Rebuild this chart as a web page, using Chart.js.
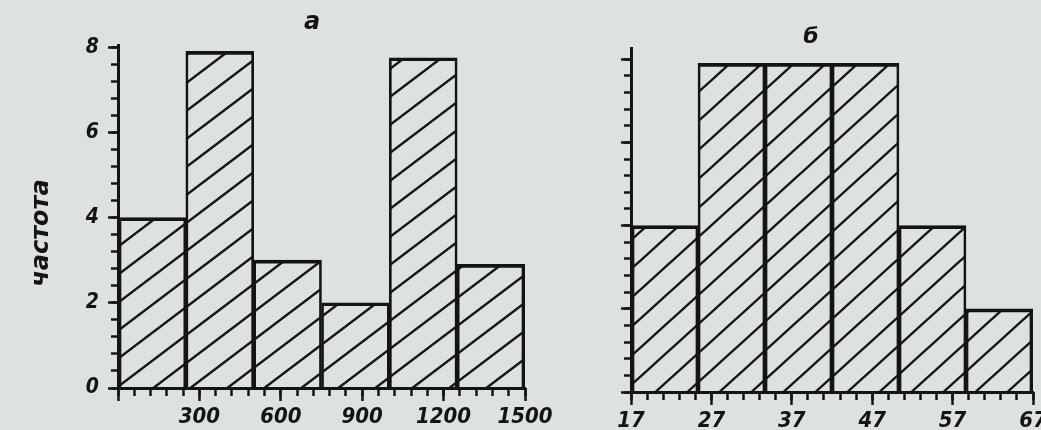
<!DOCTYPE html>
<html><head><meta charset="utf-8">
<script src="https://cdn.jsdelivr.net/npm/chart.js@4.4.0/dist/chart.umd.min.js"></script>
<style>
html,body{margin:0;padding:0;background:#dee2df;}
#wrap{position:relative;width:1041px;height:430px;overflow:hidden;background:#dee2df;}
canvas{position:absolute;left:0;top:0;}
</style></head><body>
<div id="wrap"><canvas id="ca" width="1041" height="430"></canvas><canvas id="cb" width="1041" height="430"></canvas></div>
<script>
// ---- data ----
const binsA = [0, 250, 500, 750, 1000, 1250, 1500];       // bin edges, panel а
const freqA = [4, 7.9, 3, 2, 7.75, 2.9];                   // frequencies, panel а
const tickLabelsA = [300, 600, 900, 1200, 1500];
const binsB = [17, 25.33, 33.67, 42, 50.33, 58.67, 67];   // bin edges, panel б
const freqB = [4, 7.9, 7.9, 7.9, 4, 2];                    // frequencies, panel б
const tickLabelsB = [17, 27, 37, 47, 57, 67];
const yTickLabels = [0, 2, 4, 6, 8];
const yTitle = 'частота';
const panelA = 'а', panelB = 'б';

const INK = '#141414';
const NUMFONT = '"Liberation Sans Narrow", "DejaVu Sans Condensed", "DejaVu Sans", sans-serif';
const TXTFONT = '"DejaVu Sans", sans-serif';

function hatch(dx, dy, lw){
  const c = document.createElement('canvas'); c.width = dx; c.height = dy;
  const g = c.getContext('2d');
  g.strokeStyle = INK; g.lineWidth = lw;
  for (let k = 0; k <= 2; k++) {
    g.beginPath();
    g.moveTo(-dx, k*dy + dy); g.lineTo(2*dx, k*dy - 2*dy);
    g.stroke();
  }
  return g.createPattern(c, 'repeat');
}

const textPlugin = {
  id: 'txt',
  afterDraw(chart, args, opts){
    const g = chart.ctx;
    (opts.items || []).forEach(it => {
      g.save();
      g.font = it.font; g.fillStyle = INK; g.textAlign = 'center'; g.textBaseline = 'middle';
      g.translate(it.x, it.y); g.rotate(it.rot || 0);
      g.fillText(it.text, 0, 0);
      g.restore();
    });
  }
};

function makeChart(id, bins, freq, labels, opt){
  const pts = freq.map((v, i) => ({x: (bins[i] + bins[i+1]) / 2, y: v}));
  const n = freq.length;
  const xmin = bins[0], xmax = bins[bins.length-1];
  const zeroH = s => { s.height = 0; s.paddingLeft = 0; s.paddingRight = 0; };
  return new Chart(document.getElementById(id), {
    type: 'bar',
    data: { datasets: [{
      data: pts,
      backgroundColor: hatch(opt.hdx, opt.hdy, 2.4),
      borderColor: INK,
      borderWidth: c => ({top: 3, left: c.dataIndex === 0 ? 3 : 2, right: c.dataIndex === n-1 ? 3 : 2, bottom: 0}),
      borderSkipped: false,
      barPercentage: 1, categoryPercentage: 1
    }]},
    plugins: [textPlugin],
    options: {
      responsive: false, animation: false,
      layout: { padding: opt.padding },
      plugins: { legend: {display: false}, tooltip: {enabled: false}, title: {display: false},
        txt: { items: opt.texts } },
      scales: {
        // data axis: carries the bars and the axis line
        x: { type: 'linear', position: 'bottom', weight: 0, min: xmin, max: xmax, offset: false,
          afterFit: zeroH,
          grid: { display: false, drawOnChartArea: false, drawTicks: false, offset: false },
          border: { display: true, width: 3, color: INK },
          ticks: { display: false, stepSize: xmax - xmin } },
        // minor tick marks
        xm: { type: 'linear', axis: 'x', position: 'bottom', weight: 1, min: xmin, max: xmax, offset: false,
          afterFit: zeroH,
          grid: { drawOnChartArea: false, drawTicks: true, tickLength: 8, tickWidth: 2.5, tickColor: INK, offset: false },
          border: { display: false },
          ticks: { display: false, stepSize: opt.xMinor } },
        // major tick marks with labels
        x2: { type: 'linear', axis: 'x', position: 'bottom', weight: 2, min: xmin, max: xmax, offset: false,
          afterFit: s => { s.height = opt.x2h; s.paddingLeft = 0; s.paddingRight = 0; },
          grid: { drawOnChartArea: false, drawTicks: true, tickLength: 13, tickWidth: 2.5, tickColor: INK, offset: false },
          border: { display: false },
          ticks: { stepSize: opt.xMajor, padding: 3, color: INK, maxRotation: 0, autoSkip: false,
            font: { family: NUMFONT, size: 22, style: 'italic', weight: 'bold' },
            callback: v => labels.includes(v) ? String(v) : '' } },
        y: { type: 'linear', position: 'left', weight: 0, min: 0, max: opt.ymax,
          afterFit: s => { s.width = 0; s.paddingTop = 0; s.paddingBottom = 0; },
          grid: { drawOnChartArea: false, drawTicks: true, tickLength: 7, tickWidth: 2.5, tickColor: INK },
          border: { display: true, width: 3, color: INK },
          ticks: { display: false, stepSize: 0.4, includeBounds: false } },
        y2: { type: 'linear', position: 'left', weight: 1, min: 0, max: opt.ymax,
          afterFit: s => { s.width = opt.y2w; s.paddingTop = 0; s.paddingBottom = 0; },
          grid: { drawOnChartArea: false, drawTicks: true, tickLength: 10, tickWidth: 2.5, tickColor: INK },
          border: { display: false },
          ticks: { display: opt.yLabels, stepSize: 2, includeBounds: false, padding: 9, color: INK,
            font: { family: NUMFONT, size: 21, style: 'italic', weight: 'bold' },
            callback: v => yTickLabels.includes(v) ? String(v) : '' } }
      }
    }
  });
}

makeChart('ca', binsA, freqA, tickLabelsA, {
  padding: {left: 0, top: 45, right: 1041 - 525, bottom: 0},
  y2w: 118, x2h: 42, ymax: 8.05, xMinor: 60, xMajor: 300, yLabels: true, hdx: 37, hdy: 28,
  texts: [
    {text: panelA, x: 312, y: 23, font: 'italic bold 24px ' + TXTFONT},
    {text: yTitle, x: 42, y: 233, rot: -Math.PI/2, font: 'italic bold 24px ' + TXTFONT}
  ]
});
makeChart('cb', binsB, freqB, tickLabelsB, {
  padding: {left: 0, top: 48, right: 1041 - 1033, bottom: 0},
  y2w: 631, x2h: 38, ymax: 8.27, xMinor: 2, xMajor: 10, yLabels: false, hdx: 32, hdy: 29,
  texts: [
    {text: panelB, x: 811, y: 37, font: 'italic bold 22px ' + TXTFONT}
  ]
});
</script>
</body></html>
